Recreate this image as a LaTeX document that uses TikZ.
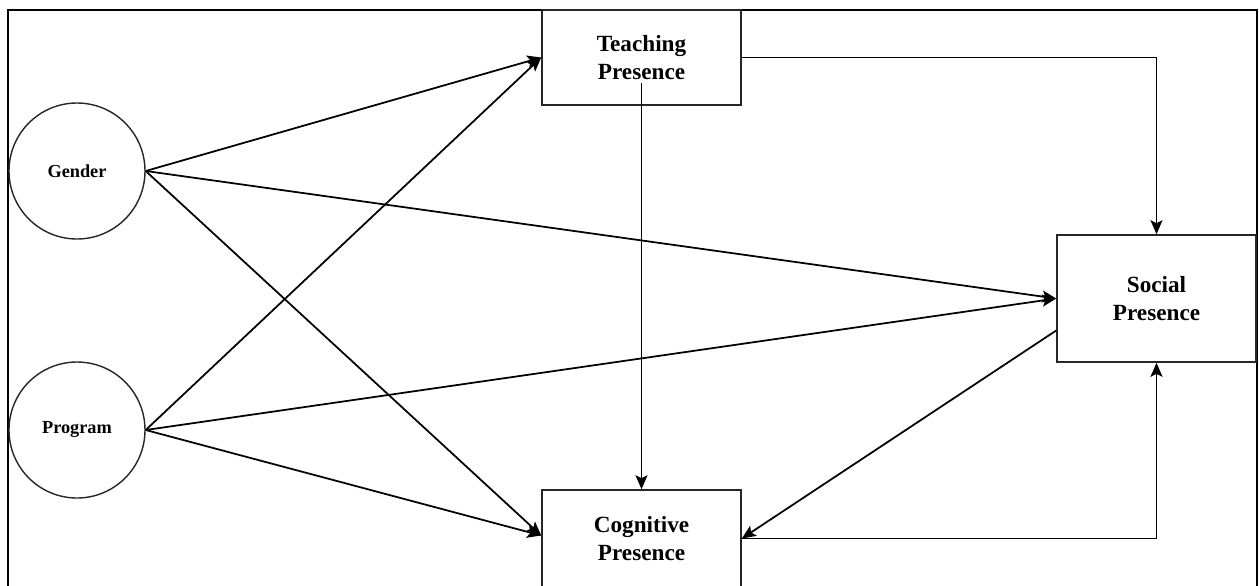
\documentclass[tikz,border=0pt]{standalone}
\usepackage{fontspec}
\setmainfont{Liberation Serif}
\usetikzlibrary{positioning, arrows.meta, calc}

\begin{document}
\begin{tikzpicture}[
  x=0.2mm, y=-0.2mm,
  var/.style={circle, draw=black!85, line width=0.8pt, minimum size=27.2mm, inner sep=0pt, font=\fontsize{10.4}{12}\selectfont\bfseries},
  pres/.style={rectangle, draw=black!85, line width=0.9pt, minimum width=39.8mm, align=center, font=\fontsize{13.2}{15.5}\selectfont\bfseries},
  path/.style={line width=1pt, draw=black, -{Stealth[length=2.8mm, width=2.4mm, inset=0.6mm]}}
]
  \useasboundingbox (0,0) rectangle (1259,585);
  % outer frame
  \draw[line width=1.5pt] (8,600) -- (8,10) -- (1257,10) -- (1257,600);

  % exogenous variables
  \node[var] (gen) at (77,171) {Gender};
  \node[var] (prog) at (77,430) {Program};

  % presences
  \node[pres, minimum height=19mm] (tp) at (641.5,57.5) {Teaching\\Presence};
  \node[pres, minimum height=19.4mm] (cp) at (641.5,538.5) {Cognitive\\Presence};
  \node[pres, minimum height=25.4mm] (sp) at (1156.5,298.5) {Social\\Presence};

  % paths from the variables
  \draw[path] (gen.east) -- (tp.west);
  \draw[path] (gen.east) -- (sp.west);
  \draw[path] (gen.east) -- ($(cp.west)+(0,-3)$);
  \draw[path] (prog.east) -- (tp.west);
  \draw[path] (prog.east) -- (sp.west);
  \draw[path] (prog.east) -- ($(cp.west)+(0,-3)$);

  % paths between the presences
  \draw[path] (tp.east) -| (sp.north);
  \draw[path] ($(tp.center)+(0,25)$) -- (cp.north);
  \draw[path] ($(sp.west)+(0,32)$) -- (cp.east);
  \draw[path] (cp.east) -| (sp.south);
\end{tikzpicture}
\end{document}
